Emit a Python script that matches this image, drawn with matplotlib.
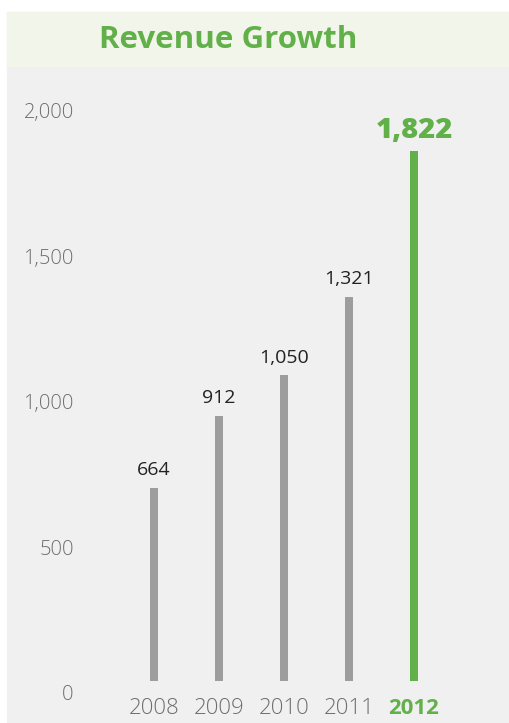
import matplotlib.pyplot as plt
from matplotlib.patches import Rectangle
import matplotlib.transforms as mtransforms

# data
years = ["2008", "2009", "2010", "2011", "2012"]
revenue = [664, 912, 1050, 1321, 1822]
yticks = [0, 500, 1000, 1500, 2000]
ytick_labels = ["0", "500", "1,000", "1,500", "2,000"]

GREEN = "#62b04a"
GREY_BAR = "#9d9d9d"
PANEL = "#f0f0f0"
BAND = "#f2f6ea"
AXIS_TXT = "#6e6e6e"

plt.rcParams['font.family'] = ['Open Sans', 'DejaVu Sans']

W, H = 510, 723
fig = plt.figure(figsize=(W / 100, H / 100), dpi=100)
fig.patch.set_facecolor("white")

# background panel and title band (kept behind the axes)
fig.patches.append(Rectangle((7 / W, 0), 1 - 7 / W, (H - 12) / H,
                             transform=fig.transFigure, color=PANEL, zorder=-10))
fig.patches.append(Rectangle((7 / W, (H - 66) / H), 1 - 7 / W, 54 / H,
                             transform=fig.transFigure, color=BAND, zorder=-10))
fig.text(228 / W, (H - 40) / H, "Revenue Growth", color=GREEN, fontsize=22.5,
         fontweight="bold", ha="center", va="center")

ax = fig.add_axes([89 / W, (H - 681) / H, 390 / W, 585 / H])
ax.set_facecolor("none")
ax.set_xlim(-1, 5)
ax.set_ylim(0, 2010)
for s in ax.spines.values():
    s.set_visible(False)

x = list(range(len(years)))
colors = [GREY_BAR] * (len(years) - 1) + [GREEN]
widths = [0.108] * (len(years) - 1) + [0.138]
ax.bar(x, revenue, width=widths, color=colors, zorder=2)

for i, v in enumerate(revenue):
    if i == len(revenue) - 1:
        ax.annotate(f"{v:,}", (x[i], v), xytext=(0, 4), textcoords="offset points",
                    ha="center", va="bottom", fontsize=21, fontweight="heavy", color=GREEN)
    else:
        ax.annotate(f"{v:,}", (x[i], v), xytext=(0, 6), textcoords="offset points",
                    ha="center", va="bottom", fontsize=14, color="#222222")

ax.set_yticks(yticks)
ax.set_yticklabels(ytick_labels, fontsize=14.5, color=AXIS_TXT, fontweight="light")
ax.tick_params(axis="y", length=0, pad=11)
shift = mtransforms.ScaledTranslation(0, -12 / 100, fig.dpi_scale_trans)
for lab in ax.get_yticklabels():
    lab.set_transform(lab.get_transform() + shift)

ax.set_xticks(x)
ax.set_xticklabels(years, fontsize=16, color=AXIS_TXT, fontweight="light")
ax.tick_params(axis="x", length=0, pad=12)
last = ax.get_xticklabels()[-1]
last.set_color(GREEN)
last.set_fontweight("bold")

fig.savefig("out.png", dpi=100)
